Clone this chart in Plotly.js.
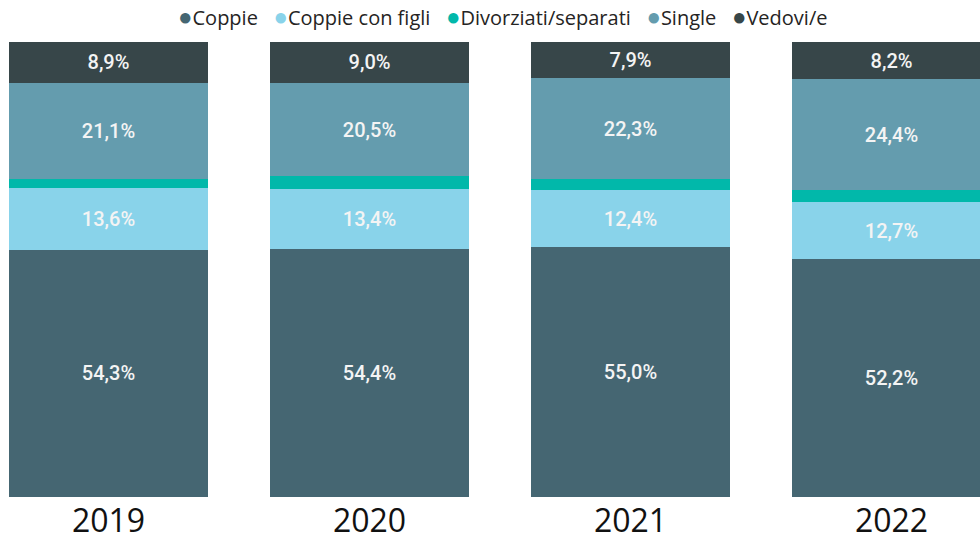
<!DOCTYPE html>
<html>
<head>
<meta charset="utf-8">
<script src="https://cdn.plot.ly/plotly-3.0.1.min.js"></script>
<style>html,body{margin:0;padding:0;background:#fff;}#chart{width:980px;height:546px;}</style>
</head>
<body>
<div id="chart"></div>
<script>
const years = ['2019', '2020', '2021', '2022'];
const seriesNames = ['Coppie', 'Coppie con figli', 'Divorziati/separati', 'Single', 'Vedovi/e'];
const coppie = [54.3, 54.4, 55.0, 52.2];
const coppieConFigli = [13.6, 13.4, 12.4, 12.7];
const divorziati = [2.1, 2.7, 2.4, 2.5];
const single = [21.1, 20.5, 22.3, 24.4];
const vedovi = [8.9, 9.0, 7.9, 8.2];
const colors = ['#456672', '#89D3EA', '#01B8AA', '#649CAE', '#374649'];
const showLabels = [true, true, false, true, true];

const values = [coppie, coppieConFigli, divorziati, single, vedovi];
const traces = values.map((v, i) => ({
  type: 'bar',
  name: seriesNames[i],
  x: years,
  y: v,
  marker: {color: colors[i], line: {width: 0}},
  texttemplate: showLabels[i] ? '%{y:.1f}%' : '',
  textposition: showLabels[i] ? 'inside' : 'none',
  insidetextanchor: 'middle',
  textangle: 0,
  textfont: {family: 'Roboto, sans-serif', size: 20, weight: 500, color: '#F4F4F4'},
  hoverinfo: 'none',
  showlegend: false
}));

const legendText = seriesNames.map((n, i) =>
  '<span style="color:' + colors[i] + ';font-size:24px">●</span>' + n).join('   ');

const layout = {
  width: 980, height: 546,
  margin: {l: 0, r: 0, t: 42, b: 49},
  barmode: 'stack',
  bargap: 0.2375,
  separators: ',.',
  paper_bgcolor: '#ffffff',
  plot_bgcolor: '#ffffff',
  showlegend: false,
  xaxis: {
    type: 'category',
    range: [-0.4157, 3.339],
    showgrid: false, zeroline: false, showline: false,
    ticks: '', ticklabelstandoff: 2,
    tickfont: {family: '"Open Sans", "Noto Sans", sans-serif', size: 32, color: '#111111'}
  },
  yaxis: {
    range: [0, 100],
    visible: false, showgrid: false, zeroline: false
  },
  annotations: [{
    xref: 'paper', yref: 'paper',
    x: 0.513, y: 1, xanchor: 'center', yanchor: 'bottom', yshift: 8,
    showarrow: false,
    text: legendText,
    font: {family: '"Open Sans", "Noto Sans", sans-serif', size: 20, color: '#252423'}
  }]
};

Plotly.newPlot('chart', traces, layout, {displayModeBar: false, staticPlot: true});
</script>
</body>
</html>
